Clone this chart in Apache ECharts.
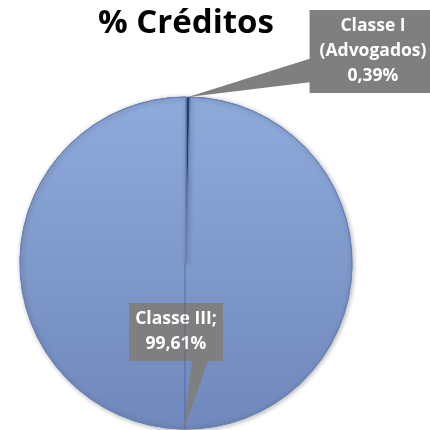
<!DOCTYPE html>
<html>
<head>
<meta charset="utf-8">
<script src="https://cdn.jsdelivr.net/npm/echarts@6/dist/echarts.min.js"></script>
<style>
  html, body { margin: 0; padding: 0; background: #fff; }
  #chart { width: 430px; height: 430px; }
</style>
</head>
<body>
<div id="chart"></div>
<script>
// data
const categories = ['Classe I (Advogados)', 'Classe III'];
const values = [0.39, 99.61];
const labelTexts = ['Classe I\n(Advogados)\n0,39%', 'Classe III;\n99,61%'];

// layout
const cx = 186, cy = 263, radius = 166, startAngle = 90;
const boxes = [
  { x: 373, y: 10, pad: [4, 10, 4, 10], base: [[312, 58], [312, 82]] },
  { x: 176, y: 303, pad: [4, 6, 4, 6], base: [[192, 361], [208, 361]] }
];

let dom = document.getElementById('chart');
let chart = echarts.init(dom);

// pointer tip at the middle of each slice rim
let total = values.reduce((a, b) => a + b, 0);
let acc = 0;
let pointers = values.map((v, i) => {
  let mid = (startAngle - (acc + v / 2) / total * 360) * Math.PI / 180;
  acc += v;
  let tip = [cx + radius * Math.cos(mid), cy - radius * Math.sin(mid)];
  return {
    type: 'polygon',
    z: 10,
    shape: { points: [tip, boxes[i].base[0], boxes[i].base[1]] },
    style: { fill: '#7f7f7f' }
  };
});

let option = {
  title: {
    text: '% Créditos',
    left: 98,
    top: 7,
    padding: 0,
    textStyle: { fontFamily: 'Open Sans', fontWeight: 'bold', fontSize: 33, color: '#000' }
  },
  graphic: [
    {
      type: 'line',
      z: 5,
      shape: { x1: cx - 1, y1: cy, x2: cx - 1, y2: cy + radius },
      style: { stroke: 'rgba(50,80,130,0.55)', lineWidth: 1 }
    }
  ].concat(pointers),
  series: [{
    type: 'pie',
    center: [cx, cy],
    radius: radius,
    startAngle: startAngle,
    avoidLabelOverlap: false,
    silent: true,
    labelLine: { show: false },
    label: {
      show: true,
      position: 'outside',
      formatter: p => labelTexts[p.dataIndex],
      color: '#fff',
      fontFamily: 'Open Sans',
      fontWeight: 'bold',
      fontSize: 17.5,
      lineHeight: 25,
      align: 'center',
      backgroundColor: '#7f7f7f'
    },
    labelLayout: p => ({
      x: boxes[p.dataIndex].x,
      y: boxes[p.dataIndex].y,
      align: 'center',
      verticalAlign: 'top'
    }),
    data: categories.map((c, i) => ({
      name: c,
      value: values[i],
      label: { padding: boxes[i].pad },
      itemStyle: i === 0
        ? { color: '#2d5689', borderColor: '#4a6fa3', borderWidth: 0.5 }
        : {
            color: new echarts.graphic.LinearGradient(0, 0, 0, 1, [
              { offset: 0, color: '#8eaadb' },
              { offset: 1, color: '#7088bb' }
            ]),
            borderColor: '#6680b2',
            borderWidth: 1,
            shadowBlur: 5,
            shadowColor: 'rgba(0,0,0,0.3)',
            shadowOffsetX: 1,
            shadowOffsetY: 1
          }
    }))
  }]
};

chart.setOption(option);
</script>
</body>
</html>
